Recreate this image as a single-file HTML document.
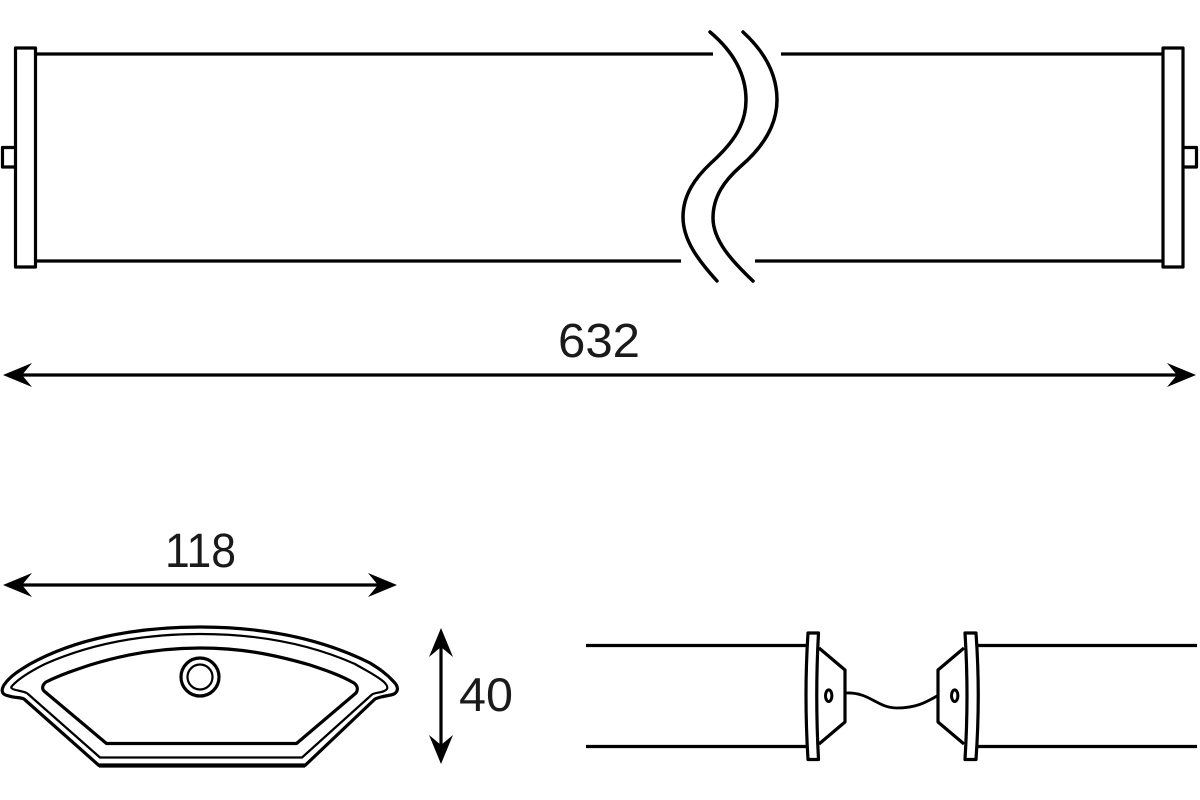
<!DOCTYPE html>
<html>
<head>
<meta charset="utf-8">
<style>
html,body{margin:0;padding:0;background:#fff;width:1200px;height:800px;overflow:hidden}
svg{display:block}
text{font-family:"Liberation Sans",sans-serif;fill:#1a1a1a}
</style>
</head>
<body>
<svg width="1200" height="800" viewBox="0 0 1200 800" xmlns="http://www.w3.org/2000/svg">
<g fill="none" stroke="#000" stroke-width="3.2" stroke-linejoin="round">
  <!-- Top view -->
  <rect x="15.500" y="48" width="20" height="219"/>
  <path d="M15.500,147.500H2.500V167H15.500"/>
  <rect x="1163" y="48" width="20" height="219"/>
  <path d="M1183,147.500H1196.500V167H1183"/>
  <path d="M36,54H713M781,54H1163M36,261H681M755,261H1163"/>
  <path d="M710,32C735,53 746,76 746,100C746,125 733,143 711,163C695,178 683,195 683,217C683,240 698,260 717,281" stroke-width="3.500" stroke-linecap="round"/>
  <path d="M743,32C766,53 777,76 777,100C777,125 763,147 741,166C725,180 713,196 713,218C713,241 733,262 753,281" stroke-width="3.500" stroke-linecap="round"/>

  <!-- Section -->
  <path d="M99,765.500H305L375,699C381,696 389,696 394,694C399,691 398,686 394,682C386,673 378,668 370,663C318,637 260,627 200,627C135,627 75,639 30,664C20,670 10,676 4,685C0,692 3,695 9,696C14,698 20,697 24,699Z"/>
  <path d="M100,757.500H302L372,694.500C376,692 384,693 387,689C388,687 386,684 384,682C376,675 365,670 355,664C310,644 260,634 200,634C140,634 90,644 45,664C35,669 20,677 12,686C9,689 16,690 20,691C24,692 26,692 28,694Z" stroke-width="2.200"/>
  <path d="M106.500,743.500H296.500L356,693C358,690 358,686 354,683C340,675 325,670 310,665C272,654 240,648 200,648C160,648 125,654 90,665C75,670 60,675 46,682C42,685 42,689 44,691Z"/>
  <path d="M99,765.500H305" stroke-width="4.200"/>
  <circle cx="200" cy="677" r="19"/>
  <circle cx="200" cy="677" r="12.500" stroke-width="2.200"/>

  <!-- Connector view -->
  <path d="M586,645.500H806M586,746.500H806M978,645.500H1197M978,746.500H1197"/>
  <path d="M808,633Q804,695 808,759.500L818.500,759.500Q815,695 818.500,633Z"/>
  <path d="M965,633Q969,695 965,759.500L976,759.500Q980.500,695 976,633Z"/>
  <path d="M819,648L845,670V722L819,744"/>
  <path d="M964,648L938,670V722L964,744"/>
  <ellipse cx="828.700" cy="695.700" rx="3.200" ry="5.800" stroke-width="3"/>
  <ellipse cx="954.700" cy="695.700" rx="3.200" ry="5.800" stroke-width="3"/>
  <path d="M846,693C870,692 877,708 897,708C915,708 925,703 937,696" stroke-width="2.800"/>

  <!-- Dimension lines -->
  <path d="M20,375H1180M20,585H380M441,645V748"/>
</g>
<g fill="#000" stroke="none">
  <path d="M3,375L32,363L22,375L32,387Z"/>
  <path d="M1196,375L1167,363L1177,375L1167,387Z"/>
  <path d="M3,585L32,573L22,585L32,597Z"/>
  <path d="M397,585L368,573L378,585L368,597Z"/>
  <path d="M441,628L429,657L441,647L453,657Z"/>
  <path d="M441,764L429,735L441,745L453,735Z"/>
</g>
<text x="558" y="357" font-size="48" textLength="82" lengthAdjust="spacingAndGlyphs">632</text>
<text x="165" y="567" font-size="48" textLength="71" lengthAdjust="spacingAndGlyphs">118</text>
<text x="459" y="711" font-size="47" textLength="54" lengthAdjust="spacingAndGlyphs">40</text>
</svg>
</body>
</html>
